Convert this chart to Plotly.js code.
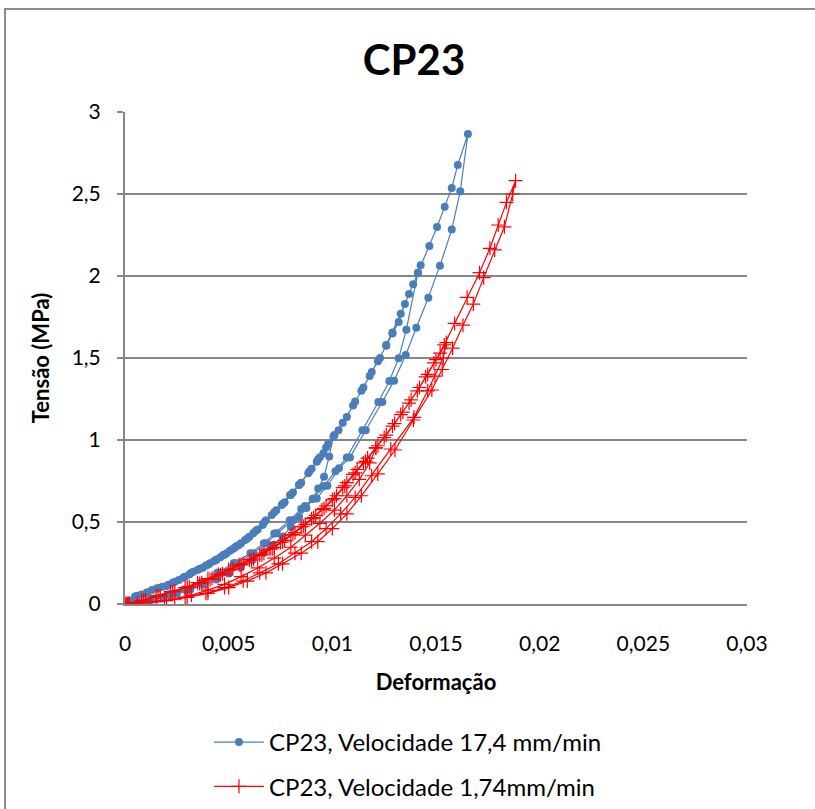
<!DOCTYPE html>
<html>
<head>
<meta charset="utf-8">
<script src="https://cdn.plot.ly/plotly-3.0.1.min.js"></script>
<style>
  html, body { margin: 0; padding: 0; overflow: hidden; background: #fff; }
  #chart { position: absolute; left: 0; top: 0; width: 815px; height: 809px; }
  #frame { position: absolute; left: 4px; top: 8px; width: 900px; height: 900px;
           border: 2px solid #8c8c8c; pointer-events: none; }
</style>
</head>
<body>
<div id="chart"></div>
<div id="frame"></div>
<script>
// ---- Blue series: CP23, Velocidade 17,4 mm/min (3 load/unload cycles) ----
const blueLoad1X = [0, 0.00048, 0.00105, 0.00153, 0.00201, 0.00241, 0.00289, 0.00330, 0.00375, 0.00410, 0.00442, 0.00474, 0.00506, 0.00539, 0.00579, 0.00619, 0.00664, 0.00708, 0.00756, 0.00796, 0.00839, 0.00884, 0.00925, 0.00957, 0.01005];
const blueLoad1Y = [0.014, 0.045, 0.069, 0.095, 0.110, 0.136, 0.166, 0.197, 0.221, 0.248, 0.272, 0.299, 0.325, 0.354, 0.390, 0.431, 0.482, 0.543, 0.604, 0.665, 0.726, 0.797, 0.868, 0.919, 1.020];
const blueUnload1X = [0.00985, 0.00960, 0.00932, 0.00908, 0.00875, 0.00840, 0.00800, 0.00760, 0.00715, 0.00668, 0.00615, 0.00560, 0.00500, 0.00440, 0.00378, 0.00315, 0.00250, 0.00185, 0.00120, 0.00055, 0.00005];
const blueUnload1Y = [0.900, 0.776, 0.705, 0.644, 0.585, 0.530, 0.470, 0.412, 0.360, 0.312, 0.268, 0.226, 0.186, 0.150, 0.117, 0.088, 0.062, 0.040, 0.022, 0.010, 0.004];
const blueLoad2X = [0.0001, 0.0006, 0.0011, 0.0016, 0.0021, 0.0026, 0.0031, 0.0035, 0.0039, 0.0043, 0.0046, 0.0049, 0.0053, 0.0056, 0.0060, 0.0064, 0.0068, 0.0073, 0.0077, 0.0081, 0.0085, 0.0090, 0.0094, 0.0098, 0.0103, 0.0107, 0.0111, 0.0115, 0.0119, 0.0123, 0.0126, 0.0129, 0.0133, 0.0137, 0.01413];
const blueLoad2Y = [0.012, 0.050, 0.072, 0.097, 0.118, 0.147, 0.180, 0.208, 0.235, 0.262, 0.285, 0.310, 0.345, 0.370, 0.410, 0.455, 0.510, 0.572, 0.620, 0.680, 0.740, 0.825, 0.895, 0.975, 1.060, 1.140, 1.235, 1.320, 1.415, 1.500, 1.580, 1.655, 1.770, 1.890, 2.020];
const blueUnload2X = [0.01357, 0.01320, 0.01275, 0.01222, 0.01145, 0.01070, 0.01015, 0.00960, 0.00905, 0.00850, 0.00795, 0.00720, 0.00670, 0.00605, 0.00525, 0.00445, 0.00365, 0.00285, 0.00205, 0.00125, 0.00050];
const blueUnload2Y = [1.673, 1.498, 1.360, 1.232, 1.059, 0.894, 0.810, 0.720, 0.640, 0.580, 0.510, 0.430, 0.370, 0.310, 0.250, 0.190, 0.130, 0.088, 0.057, 0.030, 0.008];
const blueLoad3X = [0.0002, 0.0008, 0.0013, 0.0018, 0.0023, 0.0028, 0.0032, 0.0036, 0.0040, 0.0044, 0.0048, 0.0052, 0.0055, 0.0059, 0.0063, 0.0067, 0.0072, 0.0076, 0.0080, 0.0084, 0.0089, 0.0093, 0.0097, 0.0101, 0.0105, 0.0110, 0.0114, 0.0118, 0.0122, 0.0126, 0.0129, 0.0132, 0.0135, 0.0139, 0.01413, 0.01426, 0.01468, 0.01505, 0.01542, 0.01576, 0.01605, 0.01654];
const blueLoad3Y = [0.020, 0.058, 0.085, 0.105, 0.130, 0.160, 0.190, 0.215, 0.240, 0.270, 0.300, 0.335, 0.360, 0.400, 0.445, 0.495, 0.560, 0.610, 0.665, 0.725, 0.810, 0.880, 0.955, 1.030, 1.105, 1.210, 1.300, 1.390, 1.480, 1.575, 1.650, 1.720, 1.830, 1.950, 2.020, 2.065, 2.183, 2.299, 2.423, 2.537, 2.677, 2.866];
const blueUnload3X = [0.01617, 0.01576, 0.01519, 0.01463, 0.01405, 0.01354, 0.01298, 0.01241, 0.01161, 0.01085, 0.01032, 0.00976, 0.00925, 0.00868, 0.00812, 0.00732, 0.00683, 0.00619, 0.00539, 0.00458, 0.00378, 0.00298, 0.00217, 0.00137, 0.00056];
const blueUnload3Y = [2.517, 2.283, 2.063, 1.868, 1.685, 1.518, 1.362, 1.232, 1.059, 0.894, 0.827, 0.721, 0.644, 0.598, 0.512, 0.431, 0.370, 0.309, 0.248, 0.187, 0.126, 0.085, 0.055, 0.029, 0.004];

// ---- Red series: CP23, Velocidade 1,74mm/min (3 load/unload cycles) ----
const redLoad1X = [0, 0.0008, 0.0015, 0.0022, 0.0029, 0.0035, 0.0040, 0.0045, 0.0050, 0.0055, 0.0060, 0.0065, 0.0070, 0.0075, 0.0080, 0.0085, 0.0090, 0.0095, 0.0100, 0.0105, 0.0110, 0.0115, 0.0121];
const redLoad1Y = [0.005, 0.020, 0.050, 0.075, 0.100, 0.130, 0.155, 0.180, 0.210, 0.240, 0.270, 0.300, 0.335, 0.375, 0.420, 0.470, 0.520, 0.575, 0.635, 0.710, 0.790, 0.860, 0.953];
const redUnload1X = [0.0118, 0.0113, 0.0107, 0.0101, 0.0094, 0.0087, 0.0080, 0.0072, 0.0064, 0.0056, 0.0048, 0.0040, 0.0032, 0.0024, 0.0015, 0.0006];
const redUnload1Y = [0.860, 0.760, 0.660, 0.573, 0.492, 0.420, 0.346, 0.280, 0.220, 0.167, 0.120, 0.085, 0.055, 0.030, 0.015, 0.005];
const redLoad2X = [0.0001, 0.0009, 0.0016, 0.0023, 0.0030, 0.0036, 0.0041, 0.0046, 0.0051, 0.0056, 0.0061, 0.0066, 0.0071, 0.0076, 0.0081, 0.0086, 0.0091, 0.0096, 0.0101, 0.0106, 0.0111, 0.0116, 0.0121, 0.0125, 0.0129, 0.0133, 0.0137, 0.0141, 0.0145, 0.0149, 0.0152, 0.0155];
const redLoad2Y = [0.004, 0.022, 0.048, 0.075, 0.100, 0.125, 0.150, 0.178, 0.208, 0.238, 0.268, 0.300, 0.337, 0.378, 0.425, 0.474, 0.527, 0.583, 0.642, 0.720, 0.800, 0.870, 0.950, 1.015, 1.085, 1.155, 1.225, 1.300, 1.385, 1.470, 1.530, 1.594];
const redUnload2X = [0.01535, 0.01495, 0.0146, 0.01394, 0.01282, 0.0119, 0.0111, 0.0104, 0.0097, 0.0090, 0.0082, 0.0074, 0.0065, 0.0057, 0.0048, 0.0039, 0.0029, 0.0019, 0.0009, 0.0001];
const redUnload2Y = [1.500, 1.390, 1.300, 1.138, 0.945, 0.782, 0.650, 0.550, 0.460, 0.380, 0.310, 0.245, 0.190, 0.140, 0.100, 0.065, 0.040, 0.020, 0.008, 0.000];
const redLoad3X = [0.0002, 0.0010, 0.0017, 0.0024, 0.0031, 0.0037, 0.0042, 0.0047, 0.0052, 0.0057, 0.0062, 0.0067, 0.0072, 0.0077, 0.0082, 0.0087, 0.0092, 0.0097, 0.0102, 0.0107, 0.0112, 0.0117, 0.0122, 0.0126, 0.0130, 0.0134, 0.0138, 0.0142, 0.0146, 0.0150, 0.0154, 0.0159, 0.0165, 0.0171, 0.0176, 0.0180, 0.0184, 0.01884];
const redLoad3Y = [0.006, 0.025, 0.052, 0.078, 0.105, 0.130, 0.157, 0.185, 0.215, 0.245, 0.275, 0.310, 0.345, 0.388, 0.435, 0.486, 0.540, 0.598, 0.660, 0.740, 0.820, 0.890, 0.965, 1.030, 1.100, 1.170, 1.245, 1.320, 1.400, 1.490, 1.580, 1.711, 1.870, 2.020, 2.169, 2.311, 2.449, 2.581];
const redUnload3X = [0.0187, 0.0183, 0.01783, 0.0173, 0.0168, 0.0163, 0.0158, 0.0153, 0.0148, 0.01391, 0.01302, 0.01219, 0.0114, 0.0107, 0.0100, 0.0093, 0.0085, 0.0076, 0.0068, 0.0059, 0.0050, 0.0040, 0.0030, 0.0020, 0.0010, 0.0002];
const redUnload3Y = [2.500, 2.300, 2.159, 1.990, 1.829, 1.700, 1.560, 1.430, 1.305, 1.122, 0.939, 0.793, 0.660, 0.550, 0.460, 0.380, 0.310, 0.245, 0.190, 0.140, 0.100, 0.065, 0.040, 0.020, 0.008, 0.000];

const blueName = "CP23, Velocidade 17,4 mm/min";
const redName = "CP23, Velocidade 1,74mm/min";
const xTicks = [0, 0.005, 0.01, 0.015, 0.02, 0.025, 0.03];
const yTicks = [0, 0.5, 1, 1.5, 2, 2.5, 3];

const blueX = [].concat(blueLoad1X, blueUnload1X, blueLoad2X, blueUnload2X, blueLoad3X, blueUnload3X);
const blueY = [].concat(blueLoad1Y, blueUnload1Y, blueLoad2Y, blueUnload2Y, blueLoad3Y, blueUnload3Y);
const redX = [].concat(redLoad1X, redUnload1X, redLoad2X, redUnload2X, redLoad3X, redUnload3X);
const redY = [].concat(redLoad1Y, redUnload1Y, redLoad2Y, redUnload2Y, redLoad3Y, redUnload3Y);

const FONT = "Lato, Calibri, 'Open Sans', sans-serif";

const traces = [
  {
    x: blueX, y: blueY, name: blueName, type: 'scatter', mode: 'lines+markers',
    legendgroup: 'a',
    line: { color: '#4A7EBB', width: 1.2 },
    marker: { color: '#4A7EBB', symbol: 'circle', size: 8 }
  },
  {
    x: redX, y: redY, name: redName, type: 'scatter', mode: 'lines+markers',
    legendgroup: 'b',
    line: { color: '#FF0000', width: 1.2 },
    marker: { color: '#FF0000', symbol: 'cross-thin-open', size: 10, line: { color: '#FF0000', width: 1.2 } }
  }
];

// plot area: x 125..747 px, y 112..604 px. The legend hangs ~7px below the paper,
// which pushes the bottom margin to ~7px; the y domain compensates for that push.
const PUSH = 7;
const layout = {
  width: 815, height: 809,
  margin: { l: 125, r: 68, t: 112, b: 0 },
  paper_bgcolor: '#ffffff', plot_bgcolor: '#ffffff',
  separators: ',.',
  font: { family: FONT, color: '#000000', size: 21 },
  title: { text: '<b>CP23</b>', font: { family: FONT, size: 42, color: '#000' }, x: 0.508, xanchor: 'center', y: 0.925, yanchor: 'middle' },
  showlegend: true,
  legend: {
    orientation: 'v', x: 0.135, xanchor: 'left', y: -PUSH / (697 - PUSH), yanchor: 'bottom',
    font: { family: FONT, size: 24, color: '#000' },
    traceorder: 'grouped', tracegroupgap: 10, itemwidth: 50,
    bgcolor: 'rgba(0,0,0,0)'
  },
  xaxis: {
    range: [0, 0.03], tickvals: xTicks, ticktext: xTicks.map(v => String(v).replace('.', ',')),
    showgrid: false, zeroline: false, showline: true, linecolor: '#868686', linewidth: 2,
    ticks: '', ticklabelstandoff: 20, automargin: false,
    tickfont: { family: FONT, size: 21, color: '#000' },
    title: { text: '<b>Deformação</b>', font: { family: FONT, size: 22, color: '#000' }, standoff: 20 }
  },
  yaxis: {
    domain: [(205 - PUSH) / (697 - PUSH), 1],
    range: [0, 3], tickvals: yTicks, ticktext: yTicks.map(v => String(v).replace('.', ',')),
    showgrid: true, gridcolor: '#868686', gridwidth: 2,
    zeroline: false, showline: true, linecolor: '#868686', linewidth: 2, automargin: false,
    ticks: 'outside', ticklen: 6, tickcolor: '#868686', tickwidth: 2, ticklabelstandoff: 12,
    tickfont: { family: FONT, size: 21, color: '#000' },
    title: { text: '<b>Tensão (MPa)</b>', font: { family: FONT, size: 22, color: '#000' }, standoff: 16 }
  }
};

Plotly.newPlot('chart', traces, layout, { displayModeBar: false, staticPlot: true });
</script>
</body>
</html>
